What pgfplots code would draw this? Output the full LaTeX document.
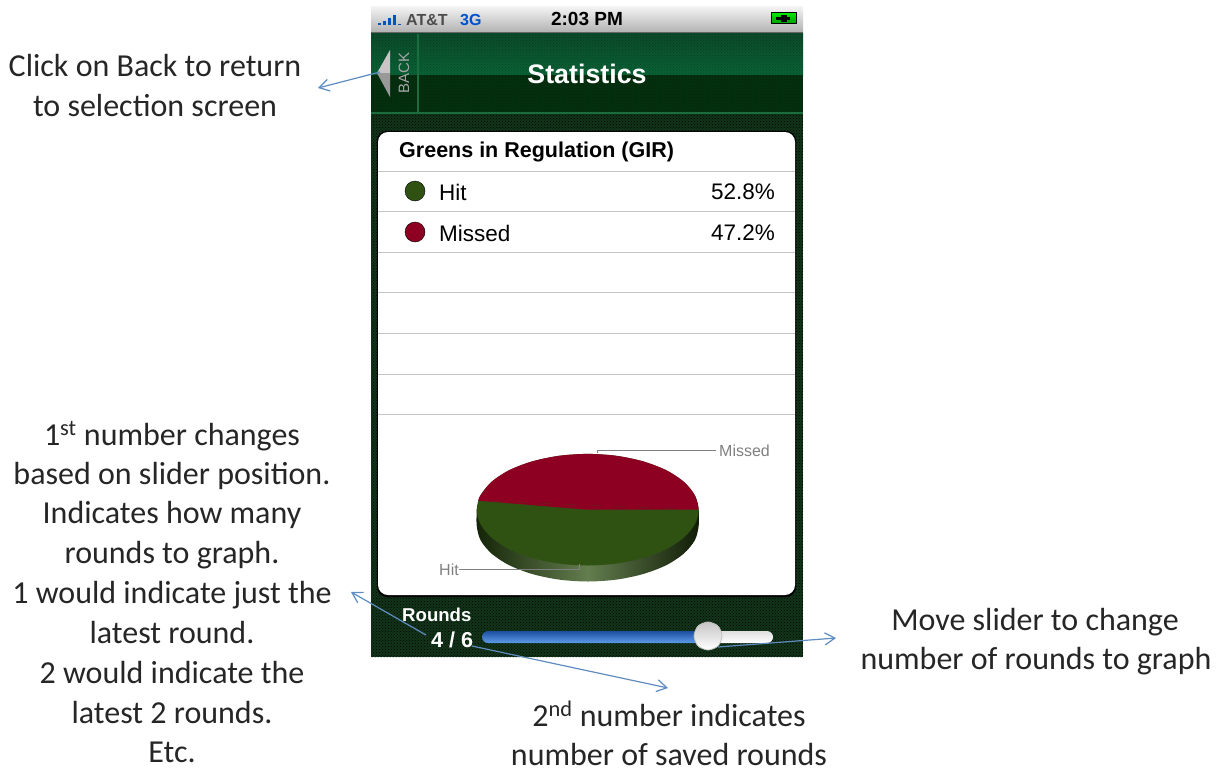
\documentclass[border=0pt]{standalone}
\usepackage{fontspec}
\setmainfont{Carlito}
\newfontfamily\hv{Liberation Sans}
\usepackage{pgfplots}
\pgfplotsset{compat=1.18}
\usetikzlibrary{patterns,arrows.meta}
\definecolor{note}{HTML}{5F8CC0}
\definecolor{navtop}{HTML}{0A6236}
\definecolor{navhigh}{HTML}{0B4A2A}
\definecolor{navlow}{HTML}{04300F}
\definecolor{body}{HTML}{12351A}
\definecolor{navline}{HTML}{1A6E3E}
\definecolor{hit}{HTML}{2F5213}
\definecolor{missed}{HTML}{8E0022}
\definecolor{rowline}{HTML}{C4C4C4}
\newcommand{\note}[3]{\node[font=\fontsize{32}{32}\selectfont,text=black!85,anchor=base,inner sep=0pt] at (axis cs:#1,#2) {#3};}
\begin{document}
\begin{tikzpicture}
\begin{axis}[
    width=1225pt, height=768pt, scale only axis,
    xmin=0, xmax=1225, ymin=0, ymax=768, y dir=reverse,
    hide axis, clip=false, unbounded coords=jump,
    every axis plot/.append style={no markers}
]
% page extent, hide axis leaves it out of the bounding box
\addplot[draw=none, fill=white] coordinates {(0,0)(1225,0)(1225,768)(0,768)} --cycle;
% phone background
\addplot[draw=none, fill=body] coordinates {(371,33)(803,33)(803,657)(371,657)} --cycle;
\addplot[draw=none, pattern=crosshatch dots, pattern color=black] coordinates {(371,113)(803,113)(803,657)(371,657)} --cycle;
% status bar
\addplot[draw=none, top color=gray!10, bottom color=gray!62] coordinates {(371,7)(803,7)(803,33)(371,33)} --cycle;
\addplot[black!60, line width=1pt] coordinates {(371,33)(803,33)};
% nav bar
\addplot[draw=none, top color=navhigh, bottom color=navtop] coordinates {(371,34)(803,34)(803,75)(371,75)} --cycle;
\addplot[draw=none, fill=navlow] coordinates {(371,75)(803,75)(803,113)(371,113)} --cycle;
\addplot[draw=none, pattern=crosshatch dots, pattern color=black, opacity=.25] coordinates {(371,34)(803,34)(803,113)(371,113)} --cycle;
\addplot[navline, line width=2pt] coordinates {(371,113)(803,113)};
\addplot[navline, line width=1.5pt] coordinates {(418,34)(418,113)};
\addplot[draw=none, fill=gray!45] coordinates {(377,73)(390,50)(390,73)} --cycle;
\addplot[draw=none, fill=gray!80] coordinates {(377,73)(390,97)(390,73)} --cycle;
\node[rotate=90, font=\hv\fontsize{15}{15}\selectfont, text=gray!70] at (axis cs:404,73) {BACK};
\node[font=\hv\bfseries\fontsize{26.8}{27}\selectfont, text=white] at (axis cs:587,74) {Statistics};
% status items
\addplot[blue!55!cyan!75!black, line width=3pt] coordinates {(379,25)(379,23)(nan,nan)(384,25)(384,21)(nan,nan)(389,25)(389,18)(nan,nan)(394,25)(394,15)(nan,nan)(399,25)(399,24)};
\node[anchor=west, font=\hv\bfseries\fontsize{16}{16}\selectfont, text=black!70, inner sep=0pt] at (axis cs:406,20) {AT\&T};
\node[anchor=west, font=\hv\bfseries\fontsize{16}{16}\selectfont, text=blue!60!cyan!80!black, inner sep=0pt] at (axis cs:460,20) {3G};
\node[font=\hv\bfseries\fontsize{19}{19}\selectfont, text=black] at (axis cs:587,19) {2:03 PM};
\addplot[black, line width=1pt, top color=green!90!black, bottom color=green!60!black] coordinates {(771,13)(796,13)(796,24)(771,24)} --cycle;
\addplot[black, line width=2.5pt] coordinates {(776,18.5)(790,18.5)};
\addplot[black, line width=7pt] coordinates {(781,18.5)(787,18.5)};
% card
\addplot[draw=none, fill=black, rounded corners=10pt] coordinates {(377,131)(796,131)(796,597)(377,597)} --cycle;
\addplot[draw=none, fill=white, rounded corners=10pt] coordinates {(378,132)(795,132)(795,595)(378,595)} --cycle;
\addplot[rowline, line width=1pt] coordinates {(378,171)(795,171)};
\addplot[rowline, line width=1pt] coordinates {(378,211)(795,211)};
\addplot[rowline, line width=1pt] coordinates {(378,252)(795,252)};
\addplot[rowline, line width=1pt] coordinates {(378,292)(795,292)};
\addplot[rowline, line width=1pt] coordinates {(378,333)(795,333)};
\addplot[rowline, line width=1pt] coordinates {(378,374)(795,374)};
\addplot[rowline, line width=1pt] coordinates {(378,414)(795,414)};
\node[anchor=west, font=\hv\bfseries\fontsize{21.5}{22}\selectfont, inner sep=0pt] at (axis cs:399,152) {Greens in Regulation (GIR)};
\addplot[only marks, mark=*, mark size=10pt, mark options={draw=none, fill=hit}] coordinates {(415,191)};
\addplot[only marks, mark=*, mark size=10pt, mark options={draw=none, fill=missed}] coordinates {(415,232)};
\node[anchor=west, font=\hv\fontsize{22.5}{23}\selectfont, inner sep=0pt] at (axis cs:439,192) {Hit};
\node[anchor=west, font=\hv\fontsize{22.5}{23}\selectfont, inner sep=0pt] at (axis cs:439,233) {Missed};
\node[anchor=east, font=\hv\fontsize{22.5}{23}\selectfont, inner sep=0pt] at (axis cs:775,192) {52.8\%};
\node[anchor=east, font=\hv\fontsize{22.5}{23}\selectfont, inner sep=0pt] at (axis cs:775,233) {47.2\%};
% pie: rim, hit, missed
\addplot[draw=none, left color=hit!45!black, right color=hit!35!black, middle color=hit!75!white, smooth] coordinates {(476.7,509.7)(476.7,525.7)(480.5,540.1)(491.6,553.6)(509.2,565.2)(532.2,574)(559,579.6)(587.7,581.5)(616.4,579.6)(643.2,574)(666.2,565.2)(683.8,553.6)(694.9,540.1)(698.7,525.7)(698.7,509.7)} --cycle;
\addplot[draw=none, fill=hit, smooth cycle] coordinates {(698.7,509.7)(694.9,495.3)(683.8,481.8)(666.2,470.2)(643.2,461.4)(616.4,455.8)(587.7,453.9)(559,455.8)(532.2,461.4)(509.2,470.2)(491.6,481.8)(480.5,495.3)(476.7,509.7)(480.5,524.1)(491.6,537.6)(509.2,549.2)(532.2,558)(559,563.6)(587.7,565.5)(616.4,563.6)(643.2,558)(666.2,549.2)(683.8,537.6)(694.9,524.1)};
\addplot[draw=none, fill=missed, smooth] coordinates {(698.7,509.7)(694.9,495.3)(683.8,481.8)(666.2,470.2)(643.2,461.4)(616.4,455.8)(587.7,453.9)(559,455.8)(532.2,461.4)(509.2,470.2)(491.6,481.8)(480.5,495.3)(478.1,500.7)} --cycle;
\addplot[draw=none, fill=missed] coordinates {(698.7,509.7)(587.7,509.7)(478.1,500.7)} --cycle;
\addplot[gray, line width=1pt] coordinates {(597,453)(597,450)(716,450)};
\addplot[gray, line width=1pt] coordinates {(459,569)(579,569)(579,564)};
\node[anchor=west, font=\hv\fontsize{16}{16}\selectfont, text=gray, inner sep=0pt] at (axis cs:719,451) {Missed};
\node[anchor=west, font=\hv\fontsize{16}{16}\selectfont, text=gray, inner sep=0pt] at (axis cs:439,570) {Hit};
% slider
\node[anchor=west, font=\hv\bfseries\fontsize{18.6}{19}\selectfont, text=white, inner sep=0pt] at (axis cs:402,615) {Rounds};
\node[anchor=west, font=\hv\bfseries\fontsize{21.6}{22}\selectfont, text=white, inner sep=0pt] at (axis cs:431,640) {4 / 6};
\addplot[draw=none, top color=gray!25, bottom color=white, rounded corners=6pt] coordinates {(690,631)(773,631)(773,643)(690,643)} --cycle;
\addplot[draw=none, top color={rgb,255:red,29;green,78;blue,160}, bottom color={rgb,255:red,93;green,157;blue,232}, rounded corners=6pt] coordinates {(482,631)(712,631)(712,643)(482,643)} --cycle;
\addplot[draw=gray!50, line width=0.8pt, top color=gray!45, bottom color=white, smooth cycle] coordinates {(722,636)(718,626)(708,622)(698,626)(694,636)(698,646)(708,650)(718,646)};
% callout text
\note{155}{77}{Click on Back to return}
\note{155}{116}{to selection screen}
\note{172}{445}{1\textsuperscript{st} number changes}
\note{172}{484}{based on slider position.}
\note{172}{523}{Indicates how many}
\note{172}{563}{rounds to graph.}
\note{172}{603}{1 would indicate just the}
\note{172}{643}{latest round.}
\note{172}{683}{2 would indicate the}
\note{172}{723}{latest 2 rounds.}
\note{172}{762}{Etc.}
\note{1035}{630}{Move slider to change}
\note{1036}{669}{number of rounds to graph}
\note{669}{726}{2\textsuperscript{nd} number indicates}
\note{669}{765}{number of saved rounds}
% callout arrows
\addplot[note, line width=1.2pt, -{Straight Barb[length=10pt,width=12pt]}] coordinates {(380,72)(318,88)};
\addplot[note, line width=1.2pt, -{Straight Barb[length=10pt,width=12pt]}] coordinates {(426,635)(351,592)};
\addplot[note, line width=1.2pt, -{Straight Barb[length=10pt,width=12pt]}] coordinates {(472,646)(668,688)};
\addplot[note, line width=1.2pt, -{Straight Barb[length=10pt,width=12pt]}] coordinates {(718,647)(836,638)};
\end{axis}
\end{tikzpicture}
\end{document}
